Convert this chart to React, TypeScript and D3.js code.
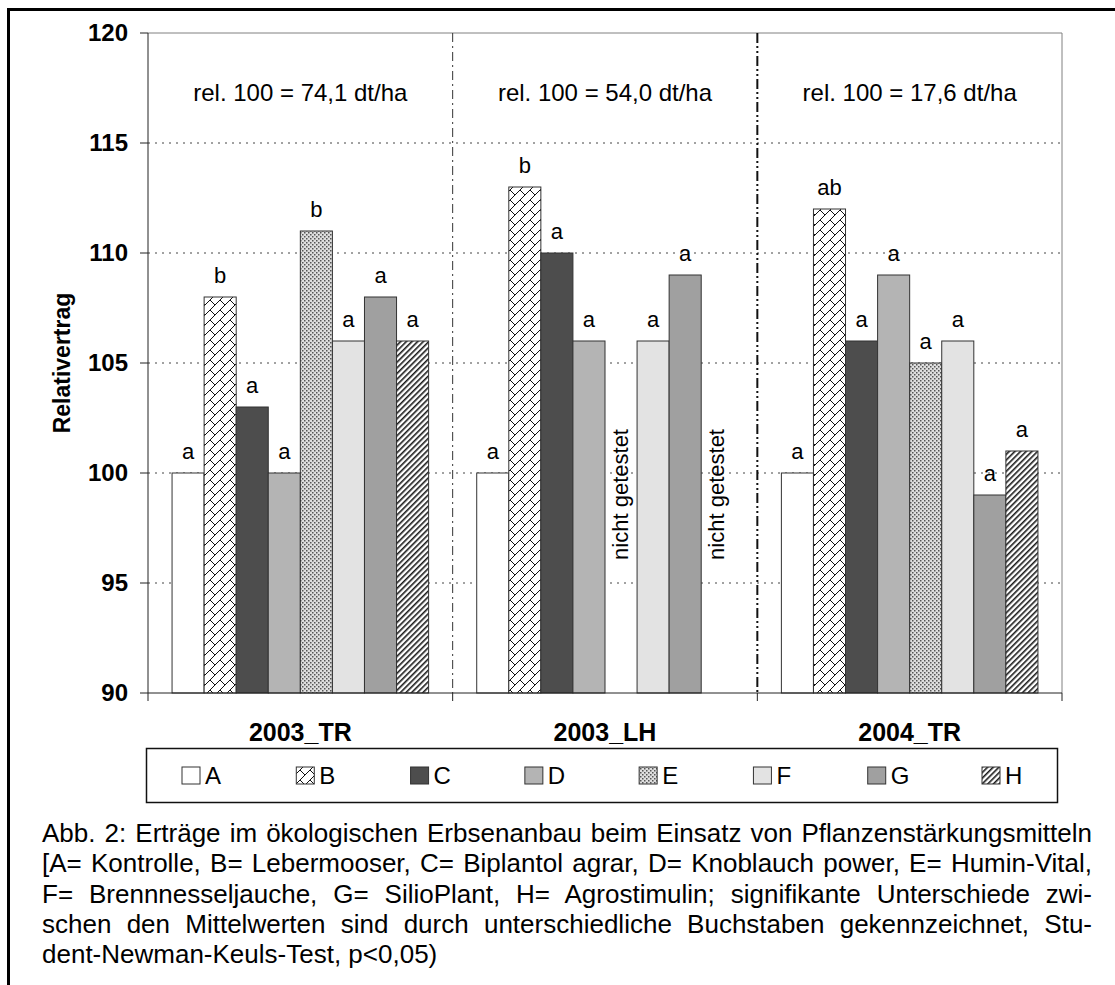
import React, { useLayoutEffect, useRef, useState } from "react";
import * as d3 from "d3";

const W = 1115;
const H = 985;
const FONT = "'Liberation Sans', Arial, sans-serif";

// data
const groups = ["2003_TR", "2003_LH", "2004_TR"];
const treatments = ["A", "B", "C", "D", "E", "F", "G", "H"];
const values2003TR = [100, 108, 103, 100, 111, 106, 108, 106];
const values2003LH = [100, 113, 110, 106, null, 106, 109, null];
const values2004TR = [100, 112, 106, 109, 105, 106, 99, 101];
const letters2003TR = ["a", "b", "a", "a", "b", "a", "a", "a"];
const letters2003LH = ["a", "b", "a", "a", null, "a", "a", null];
const letters2004TR = ["a", "ab", "a", "a", "a", "a", "a", "a"];
const relLabels = ["rel. 100 = 74,1 dt/ha", "rel. 100 = 54,0 dt/ha", "rel. 100 = 17,6 dt/ha"];
const yTicks = [90, 95, 100, 105, 110, 115, 120];
const captionLines = [
  "Abb. 2: Erträge im ökologischen Erbsenanbau beim Einsatz von Pflanzenstärkungsmitteln",
  "[A= Kontrolle, B= Lebermooser, C= Biplantol agrar, D= Knoblauch power, E= Humin-Vital,",
  "F= Brennnesseljauche, G= SilioPlant, H= Agrostimulin; signifikante Unterschiede zwi-",
  "schen den Mittelwerten sind durch unterschiedliche Buchstaben gekennzeichnet, Stu-",
  "dent-Newman-Keuls-Test, p<0,05)",
];

const seriesValues = [values2003TR, values2003LH, values2004TR];
const seriesLetters = [letters2003TR, letters2003LH, letters2004TR];

const fills: Record<string, string> = {
  A: "#ffffff",
  B: "url(#patB)",
  C: "#4d4d4d",
  D: "#b4b4b4",
  E: "url(#patE)",
  F: "#e3e3e3",
  G: "#a0a0a0",
  H: "url(#patH)",
};

const PLOT = { left: 148, right: 1062, top: 33, bottom: 693 };
const CAPTION = { x: 42, width: 1050, y: 842, lineHeight: 30.3, size: 26 };

export default function App() {
  const capRefs = useRef<(SVGTextElement | null)[]>([]);
  const [wordSpacing, setWordSpacing] = useState<number[]>(captionLines.map(() => 0));

  // justify caption lines (all but the last) by adjusting the word gaps
  useLayoutEffect(() => {
    const ws = captionLines.map((line, i) => {
      const el = capRefs.current[i];
      if (!el || i === captionLines.length - 1) return 0;
      const natural = el.getComputedTextLength();
      const gaps = line.split(" ").length - 1;
      return gaps > 0 ? (CAPTION.width - natural) / gaps : 0;
    });
    setWordSpacing(ws);
  }, []);

  const yScale = d3.scaleLinear().domain([90, 120]).range([PLOT.bottom, PLOT.top]);
  const xGroup = d3.scaleBand().domain(groups).range([PLOT.left, PLOT.right]);
  const xBar = d3
    .scaleBand()
    .domain(treatments)
    .range([0, xGroup.bandwidth()])
    .paddingInner(0)
    .paddingOuter(0.75);
  const legendX = d3.scalePoint().domain(treatments).range([182, 982]);

  const bars: any[] = [];
  const letters: any[] = [];
  groups.forEach((g, gi) => {
    const gx = xGroup(g) || 0;
    seriesValues[gi].forEach((v, i) => {
      const t = treatments[i];
      const x = gx + (xBar(t) || 0);
      if (v == null) return;
      const top = yScale(v);
      bars.push(
        <rect
          key={g + t}
          x={x}
          y={Math.min(top, yScale(90))}
          width={xBar.bandwidth()}
          height={Math.abs(yScale(90) - top)}
          fill={fills[t]}
          stroke="#333"
          strokeWidth={1}
        />
      );
      const l = seriesLetters[gi][i];
      if (l)
        letters.push(
          <text
            key={"l" + g + t}
            x={x + xBar.bandwidth() / 2}
            y={top - 14}
            textAnchor="middle"
            fontSize={22}
          >
            {l}
          </text>
        );
    });
  });

  // not tested markers in 2003_LH
  const notTested: any[] = [];
  seriesValues[1].forEach((v, i) => {
    if (v != null) return;
    const cx = (xGroup(groups[1]) || 0) + (xBar(treatments[i]) || 0) + xBar.bandwidth() / 2;
    const cy = yScale(102);
    notTested.push(
      <text
        key={"nt" + i}
        transform={`translate(${cx + 7},${cy}) rotate(-90)`}
        textAnchor="end"
        fontSize={22}
      >
        nicht getestet
      </text>
    );
  });

  return (
    <svg
      width={W}
      height={H}
      style={{ position: "absolute", left: 0, top: 0, background: "#fff" }}
      fontFamily={FONT}
    >
      <defs>
        <pattern id="patB" patternUnits="userSpaceOnUse" width={10} height={10}>
          <rect width={10} height={10} fill="#fff" />
          <path d="M0,10 L10,0 M-1,1 L1,-1 M9,11 L11,9 M0,0 L5,5" stroke="#111" strokeWidth={1} />
        </pattern>
        <pattern id="patE" patternUnits="userSpaceOnUse" width={4} height={4}>
          <rect width={4} height={4} fill="#dedede" />
          <rect x={0} y={0} width={1.5} height={1.5} fill="#555" />
          <rect x={2} y={2} width={1.5} height={1.5} fill="#555" />
        </pattern>
        <pattern
          id="patH"
          patternUnits="userSpaceOnUse"
          width={4}
          height={4}
          patternTransform="rotate(45)"
        >
          <rect width={4} height={4} fill="#fff" />
          <rect x={0} y={0} width={1.6} height={4} fill="#1a1a1a" />
        </pattern>
      </defs>

      <rect width={W} height={H} fill="#fff" />
      {/* outer frame, right and bottom sides lie off the page */}
      <rect x={8.5} y={9.5} width={W + 20} height={H + 20} fill="none" stroke="#000" strokeWidth={3} />

      {/* gridlines */}
      {yTicks
        .filter((t) => t > 90 && t < 120)
        .map((t) => (
          <line
            key={"g" + t}
            x1={PLOT.left}
            x2={PLOT.right}
            y1={yScale(t)}
            y2={yScale(t)}
            stroke="#444"
            strokeWidth={1}
            strokeDasharray="2,5"
          />
        ))}

      {/* plot border top & right */}
      <line x1={PLOT.left} x2={PLOT.right} y1={PLOT.top} y2={PLOT.top} stroke="#808080" />
      <line x1={PLOT.right} x2={PLOT.right} y1={PLOT.top} y2={PLOT.bottom} stroke="#808080" />

      {/* group separators */}
      <line
        x1={xGroup(groups[1])}
        x2={xGroup(groups[1])}
        y1={PLOT.top}
        y2={PLOT.bottom}
        stroke="#333"
        strokeWidth={1}
        strokeDasharray="9,4,2,4"
      />
      <line
        x1={xGroup(groups[2])}
        x2={xGroup(groups[2])}
        y1={PLOT.top}
        y2={PLOT.bottom}
        stroke="#111"
        strokeWidth={2}
        strokeDasharray="10,3,2,3,2,3"
      />

      {bars}
      {letters}
      {notTested}

      {/* rel labels */}
      {groups.map((g, i) => (
        <text
          key={"rel" + g}
          x={(xGroup(g) || 0) + xGroup.bandwidth() / 2}
          y={101}
          textAnchor="middle"
          fontSize={24}
        >
          {relLabels[i]}
        </text>
      ))}

      {/* y axis */}
      <line x1={PLOT.left} x2={PLOT.left} y1={PLOT.top} y2={PLOT.bottom} stroke="#222" />
      {yTicks.map((t) => (
        <g key={"yt" + t}>
          <line x1={PLOT.left - 8} x2={PLOT.left} y1={yScale(t)} y2={yScale(t)} stroke="#222" />
          <text
            x={128}
            y={yScale(t)}
            dy="0.35em"
            textAnchor="end"
            fontSize={24}
            fontWeight="bold"
          >
            {t}
          </text>
        </g>
      ))}
      <text
        transform={`translate(70,${yScale(105)}) rotate(-90)`}
        textAnchor="middle"
        fontSize={23}
        fontWeight="bold"
      >
        Relativertrag
      </text>

      {/* x axis */}
      <line x1={PLOT.left} x2={PLOT.right} y1={PLOT.bottom} y2={PLOT.bottom} stroke="#222" />
      {[...groups.map((g) => xGroup(g) || 0), PLOT.right].map((x, i) => (
        <line key={"xt" + i} x1={x} x2={x} y1={PLOT.bottom} y2={PLOT.bottom + 8} stroke="#222" />
      ))}
      {groups.map((g) => (
        <text
          key={"c" + g}
          x={(xGroup(g) || 0) + xGroup.bandwidth() / 2}
          y={741}
          textAnchor="middle"
          fontSize={25}
          fontWeight="bold"
        >
          {g}
        </text>
      ))}

      {/* legend */}
      <rect x={146.5} y={748.5} width={911} height={54} fill="#fff" stroke="#111" strokeWidth={1.5} />
      {treatments.map((t) => (
        <g key={"lg" + t}>
          <rect
            x={legendX(t)}
            y={767}
            width={18}
            height={17}
            fill={fills[t]}
            stroke="#333"
            strokeWidth={1}
          />
          <text x={(legendX(t) || 0) + 23} y={784} fontSize={24}>
            {t}
          </text>
        </g>
      ))}

      {/* caption */}
      {captionLines.map((line, i) => (
        <text
          key={"cap" + i}
          ref={(el) => {
            capRefs.current[i] = el;
          }}
          x={CAPTION.x}
          y={CAPTION.y + i * CAPTION.lineHeight}
          fontSize={CAPTION.size}
          style={{ wordSpacing: `${wordSpacing[i]}px`, whiteSpace: "pre" }}
        >
          {line}
        </text>
      ))}
    </svg>
  );
}
